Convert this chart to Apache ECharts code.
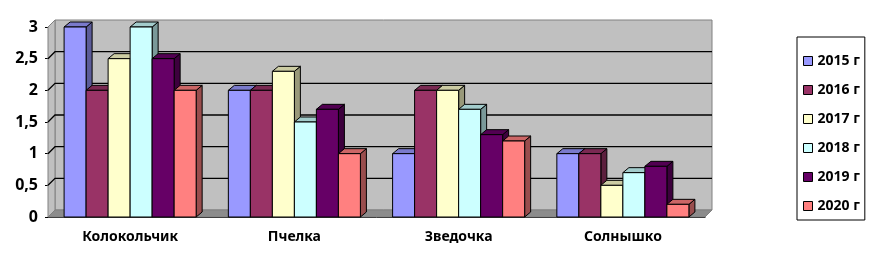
<!DOCTYPE html>
<html>
<head>
<meta charset="utf-8">
<script src="https://cdn.jsdelivr.net/npm/echarts@6/dist/echarts.min.js"></script>
<style>
  html, body { margin: 0; padding: 0; background: #fff; }
  #chart { width: 872px; height: 266px; }
</style>
</head>
<body>
<div id="chart"></div>
<script>
// данные
const categories = ['Колокольчик', 'Пчелка', 'Зведочка', 'Солнышко'];
const years = ['2015 г', '2016 г', '2017 г', '2018 г', '2019 г', '2020 г'];
const v2015 = [3, 2, 1, 1];
const v2016 = [2, 2, 2, 1];
const v2017 = [2.5, 2.3, 2, 0.5];
const v2018 = [3, 1.5, 1.7, 0.7];
const v2019 = [2.5, 1.7, 1.3, 0.8];
const v2020 = [2, 1, 1.2, 0.2];
const yTicks = [0, 0.5, 1, 1.5, 2, 2.5, 3];

const values = [v2015, v2016, v2017, v2018, v2019, v2020];
const colors = ['#9999FF', '#993366', '#FFFFCC', '#CCFFFF', '#660066', '#FF8080'];

const FONT = 'Noto Sans';
const BAR_DX = 6, BAR_DY = -5;   // глубина столбиков
const WALL_DX = 7, WALL_DY = -7; // глубина стенки

function shade(hex, k) {
    const n = parseInt(hex.slice(1), 16);
    const r = Math.round(((n >> 16) & 255) * k);
    const g = Math.round(((n >> 8) & 255) * k);
    const b = Math.round((n & 255) * k);
    return 'rgb(' + r + ',' + g + ',' + b + ')';
}

const chart = echarts.init(document.getElementById('chart'), null, { renderer: 'canvas' });

// стенки и пол
function renderWalls(params, api) {
    const cs = params.coordSys;
    const x1 = cs.x, x2 = cs.x + cs.width;
    const y0 = api.coord([0, 0])[1];
    const yTop = api.coord([0, yTicks[yTicks.length - 1]])[1];
    const children = [];
    children.push({
        type: 'rect',
        shape: { x: x1 + WALL_DX, y: yTop + WALL_DY, width: cs.width, height: y0 - yTop },
        style: { fill: '#C0C0C0', stroke: '#808080', lineWidth: 1 }
    });
    children.push({
        type: 'polygon',
        shape: { points: [[x1, yTop], [x1 + WALL_DX, yTop + WALL_DY], [x1 + WALL_DX, y0 + WALL_DY], [x1, y0]] },
        style: { fill: '#C0C0C0', stroke: '#808080', lineWidth: 1 }
    });
    children.push({
        type: 'polygon',
        shape: { points: [[x1, y0], [x1 + WALL_DX, y0 + WALL_DY], [x2 + WALL_DX, y0 + WALL_DY], [x2, y0]] },
        style: { fill: '#8C8C8C', stroke: '#808080', lineWidth: 1 }
    });
    yTicks.slice(1, -1).forEach(function (t) {
        const y = api.coord([0, t])[1];
        children.push({
            type: 'polyline',
            shape: { points: [[x1, y], [x1 + WALL_DX, y + WALL_DY], [x2 + WALL_DX, y + WALL_DY]] },
            style: { stroke: '#000', lineWidth: 1.3, fill: null }
        });
    });
    return { type: 'group', children: children };
}

// объёмные столбики
function makeBarRenderer(idx) {
    return function (params, api) {
        const cat = api.value(0);
        const top = api.coord([cat, api.value(1)]);
        const base = api.coord([cat, 0]);
        const band = api.size([1, 0])[0];
        const w = band * 0.134;
        const x0 = base[0] - 3 * w + idx * w;
        const yT = top[1], yB = base[1];
        const color = api.visual('color');
        const stroke = { stroke: '#000', lineWidth: 1 };
        return {
            type: 'group',
            children: [
                {
                    type: 'polygon',
                    shape: { points: [[x0 + w, yT], [x0 + w + BAR_DX, yT + BAR_DY], [x0 + w + BAR_DX, yB + BAR_DY], [x0 + w, yB]] },
                    style: Object.assign({ fill: shade(color, 0.6) }, stroke)
                },
                {
                    type: 'polygon',
                    shape: { points: [[x0, yT], [x0 + BAR_DX, yT + BAR_DY], [x0 + w + BAR_DX, yT + BAR_DY], [x0 + w, yT]] },
                    style: Object.assign({ fill: shade(color, 0.8) }, stroke)
                },
                {
                    type: 'rect',
                    shape: { x: x0, y: yT, width: w, height: yB - yT },
                    style: Object.assign({ fill: color }, stroke)
                }
            ]
        };
    };
}

const series = [{
    type: 'custom',
    name: 'walls',
    renderItem: renderWalls,
    data: [[0, 0]],
    silent: true,
    z: 1
}];
years.forEach(function (y, i) {
    series.push({
        type: 'custom',
        name: y,
        renderItem: makeBarRenderer(i),
        data: values[i].map(function (v, c) { return [c, v]; }),
        itemStyle: { color: colors[i], borderColor: '#000', borderWidth: 1 },
        z: 2 + i
    });
});

chart.setOption({
    animation: false,
    grid: { left: 48, right: 167, top: 27, bottom: 49 },
    xAxis: {
        type: 'category',
        data: categories,
        boundaryGap: true,
        axisLine: { lineStyle: { color: '#000', width: 1 } },
        axisTick: { length: 4, lineStyle: { color: '#000' } },
        axisLabel: { color: '#000', fontFamily: FONT, fontWeight: 'bold', fontSize: 14, margin: 13 }
    },
    yAxis: {
        type: 'value',
        min: 0,
        max: 3,
        interval: 0.5,
        axisLine: { show: true, lineStyle: { color: '#000', width: 1 } },
        axisTick: { show: true, length: 3, lineStyle: { color: '#000' } },
        splitLine: { show: false },
        axisLabel: {
            color: '#000', fontFamily: FONT, fontWeight: 'bold', fontSize: 16, margin: 10,
            formatter: function (v) { return String(v).replace('.', ','); }
        }
    },
    legend: {
        orient: 'vertical',
        left: 797,
        top: 37,
        data: years,
        icon: 'rect',
        itemWidth: 9,
        itemHeight: 9,
        itemGap: 15,
        padding: [17, 5, 7, 6],
        borderColor: '#000',
        borderWidth: 1,
        itemStyle: { borderColor: '#000', borderWidth: 1 },
        textStyle: { color: '#000', fontFamily: FONT, fontWeight: 'bold', fontSize: 14, lineHeight: 14 }
    },
    series: series
});
</script>
</body>
</html>
